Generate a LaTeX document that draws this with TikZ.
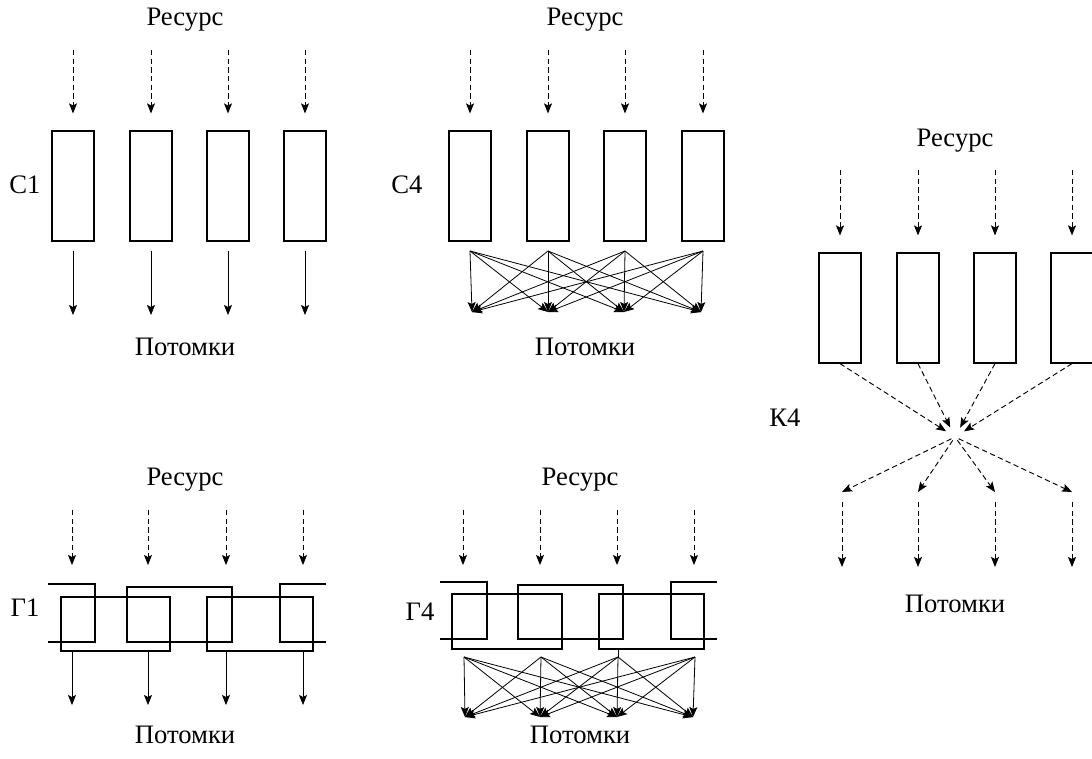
\documentclass[tikz,border=0pt]{standalone}
\usepackage{fontspec}
\setmainfont{Liberation Serif}
\usetikzlibrary{arrows.meta}

\begin{document}
\begin{tikzpicture}[x=0.75pt,y=-0.75pt,
    every node/.style={font=\fontsize{20}{23}\selectfont},
    cell/.style={draw, line width=1.4pt, inner sep=0pt, minimum width=32pt, minimum height=82pt},
    feed/.style={-{Stealth[length=7.5pt,width=6pt,inset=1.5pt]}, line width=0.7pt, dash pattern=on 4pt off 2.5pt, shorten >=12.75pt},
    offspring/.style={-{Stealth[length=7.5pt,width=6pt,inset=1.5pt]}, line width=0.7pt},
    mix/.style={-{Stealth[length=7.5pt,width=6pt,inset=1.5pt]}, line width=0.6pt},
    leave/.style={shorten <=6.75pt},
    frame/.style={line width=1.4pt}]
    \useasboundingbox (0,0) rectangle (1092,758);

    % C1: separate cells
    \node at (185,20) {Ресурс};
    \node at (25,185) {С1};
    \node at (185,347) {Потомки};
    \node[cell] (c1a) at (73,186) {};
    \node[cell] (c1b) at (151,186) {};
    \node[cell] (c1c) at (228,186) {};
    \node[cell] (c1d) at (305,186) {};
    \coordinate (r1a) at (73,50);
    \coordinate (r1b) at (151,50);
    \coordinate (r1c) at (228,50);
    \coordinate (r1d) at (305,50);
    \coordinate (p1a) at (73,315);
    \coordinate (p1b) at (151,315);
    \coordinate (p1c) at (228,315);
    \coordinate (p1d) at (305,315);
    \draw[feed] (r1a) -- (c1a);
    \draw[feed] (r1b) -- (c1b);
    \draw[feed] (r1c) -- (c1c);
    \draw[feed] (r1d) -- (c1d);
    \draw[offspring, leave] (c1a) -- (p1a);
    \draw[offspring, leave] (c1b) -- (p1b);
    \draw[offspring, leave] (c1c) -- (p1c);
    \draw[offspring, leave] (c1d) -- (p1d);

    % C4: separate cells, mixed offspring
    \node at (585,20) {Ресурс};
    \node at (407,185) {С4};
    \node at (585,347) {Потомки};
    \node[cell] (c4a) at (470,186) {};
    \node[cell] (c4b) at (548,186) {};
    \node[cell] (c4c) at (625,186) {};
    \node[cell] (c4d) at (703,186) {};
    \coordinate (r4a) at (470,50);
    \coordinate (r4b) at (548,50);
    \coordinate (r4c) at (625,50);
    \coordinate (r4d) at (703,50);
    \draw[feed] (r4a) -- (c4a);
    \draw[feed] (r4b) -- (c4b);
    \draw[feed] (r4c) -- (c4c);
    \draw[feed] (r4d) -- (c4d);
    \coordinate (s4a) at (470,251);
    \coordinate (s4b) at (548,251);
    \coordinate (s4c) at (625,251);
    \coordinate (s4d) at (703,251);
    \coordinate (t4a) at (472,312);
    \coordinate (t4b) at (548,312);
    \coordinate (t4c) at (624,312);
    \coordinate (t4d) at (701,312);
    \draw[mix] (s4a) -- (t4a);
    \draw[mix] (s4a) -- (t4b);
    \draw[mix] (s4a) -- (t4c);
    \draw[mix] (s4a) -- (t4d);
    \draw[mix] (s4b) -- (t4a);
    \draw[mix] (s4b) -- (t4b);
    \draw[mix] (s4b) -- (t4c);
    \draw[mix] (s4b) -- (t4d);
    \draw[mix] (s4c) -- (t4a);
    \draw[mix] (s4c) -- (t4b);
    \draw[mix] (s4c) -- (t4c);
    \draw[mix] (s4c) -- (t4d);
    \draw[mix] (s4d) -- (t4a);
    \draw[mix] (s4d) -- (t4b);
    \draw[mix] (s4d) -- (t4c);
    \draw[mix] (s4d) -- (t4d);

    % K4: common pool
    \node at (955,141) {Ресурс};
    \node at (785,418) {К4};
    \node at (955,604) {Потомки};
    \node[cell] (k4a) at (840,308) {};
    \node[cell] (k4b) at (918,308) {};
    \node[cell] (k4c) at (995,308) {};
    \node[cell] (k4d) at (1072,308) {};
    \coordinate (rka) at (840,170);
    \coordinate (rkb) at (918,170);
    \coordinate (rkc) at (995,170);
    \coordinate (rkd) at (1072,170);
    \draw[feed] (rka) -- (k4a);
    \draw[feed] (rkb) -- (k4b);
    \draw[feed] (rkc) -- (k4c);
    \draw[feed] (rkd) -- (k4d);
    \coordinate (hub) at (955,437);
    \draw[feed, shorten >=8pt] (k4a.south) -- (hub);
    \draw[feed, shorten >=8pt] (k4b.south) -- (hub);
    \draw[feed, shorten >=8pt] (k4c.south) -- (hub);
    \draw[feed, shorten >=8pt] (k4d.south) -- (hub);
    \coordinate (mka) at (842,492);
    \coordinate (mkb) at (918,492);
    \coordinate (mkc) at (995,492);
    \coordinate (mkd) at (1072,492);
    \draw[feed, shorten >=0pt, shorten <=3pt] (hub) -- (mka);
    \draw[feed, shorten >=0pt, shorten <=3pt] (hub) -- (mkb);
    \draw[feed, shorten >=0pt, shorten <=3pt] (hub) -- (mkc);
    \draw[feed, shorten >=0pt, shorten <=3pt] (hub) -- (mkd);
    \coordinate (dka) at (842,502);
    \coordinate (dkb) at (918,502);
    \coordinate (dkc) at (995,502);
    \coordinate (dkd) at (1072,502);
    \coordinate (eka) at (842,567);
    \coordinate (ekb) at (918,567);
    \coordinate (ekc) at (995,567);
    \coordinate (ekd) at (1072,567);
    \draw[feed, shorten >=0pt] (dka) -- (eka);
    \draw[feed, shorten >=0pt] (dkb) -- (ekb);
    \draw[feed, shorten >=0pt] (dkc) -- (ekc);
    \draw[feed, shorten >=0pt] (dkd) -- (ekd);

    % G1: interlocked cells
    \node at (185,480) {Ресурс};
    \node at (25,608) {Г1};
    \node at (185,735) {Потомки};
    \draw[frame] (48,584) -- (95,584) -- (95,642) -- (48,642);
    \draw[frame] (127,587) rectangle (232,642);
    \draw[frame] (326,584) -- (280,584) -- (280,642) -- (326,642);
    \draw[frame] (61,597) rectangle (170,651);
    \draw[frame] (207,597) rectangle (313,651);
    \coordinate (r5a) at (72,510);
    \coordinate (r5b) at (148,510);
    \coordinate (r5c) at (226,510);
    \coordinate (r5d) at (303,510);
    \coordinate (u5a) at (72,582);
    \coordinate (u5b) at (148,582);
    \coordinate (u5c) at (226,582);
    \coordinate (u5d) at (303,582);
    \draw[feed] (r5a) -- (u5a);
    \draw[feed] (r5b) -- (u5b);
    \draw[feed] (r5c) -- (u5c);
    \draw[feed] (r5d) -- (u5d);
    \coordinate (g1a) at (72,651);
    \coordinate (g1b) at (148,651);
    \coordinate (g1c) at (226,651);
    \coordinate (g1d) at (303,651);
    \coordinate (q1a) at (72,705);
    \coordinate (q1b) at (148,705);
    \coordinate (q1c) at (226,705);
    \coordinate (q1d) at (303,705);
    \draw[offspring] (g1a) -- (q1a);
    \draw[offspring] (g1b) -- (q1b);
    \draw[offspring] (g1c) -- (q1c);
    \draw[offspring] (g1d) -- (q1d);

    % G4: interlocked cells, mixed offspring
    \node at (580,480) {Ресурс};
    \node at (420,612) {Г4};
    \node at (580,735) {Потомки};
    \draw[frame] (440,582) -- (487,582) -- (487,639) -- (440,639);
    \draw[frame] (518,585) rectangle (623,639);
    \draw[frame] (717,582) -- (671,582) -- (671,639) -- (717,639);
    \draw[frame] (452,594) rectangle (562,649);
    \draw[frame] (599,594) rectangle (704,649);
    \coordinate (r6a) at (463,510);
    \coordinate (r6b) at (540,510);
    \coordinate (r6c) at (617,510);
    \coordinate (r6d) at (694,510);
    \coordinate (u6a) at (463,582);
    \coordinate (u6b) at (540,582);
    \coordinate (u6c) at (617,582);
    \coordinate (u6d) at (694,582);
    \draw[feed] (r6a) -- (u6a);
    \draw[feed] (r6b) -- (u6b);
    \draw[feed] (r6c) -- (u6c);
    \draw[feed] (r6d) -- (u6d);
    \coordinate (s6a) at (464,657);
    \coordinate (s6b) at (541,657);
    \coordinate (s6c) at (618,657);
    \coordinate (s6d) at (695,657);
    \coordinate (t6a) at (465,717);
    \coordinate (t6b) at (540,717);
    \coordinate (t6c) at (617,717);
    \coordinate (t6d) at (693,717);
    \draw[line width=0.6pt] (618,649) -- (s6c);
    \draw[mix] (s6a) -- (t6a);
    \draw[mix] (s6a) -- (t6b);
    \draw[mix] (s6a) -- (t6c);
    \draw[mix] (s6a) -- (t6d);
    \draw[mix] (s6b) -- (t6a);
    \draw[mix] (s6b) -- (t6b);
    \draw[mix] (s6b) -- (t6c);
    \draw[mix] (s6b) -- (t6d);
    \draw[mix] (s6c) -- (t6a);
    \draw[mix] (s6c) -- (t6b);
    \draw[mix] (s6c) -- (t6c);
    \draw[mix] (s6c) -- (t6d);
    \draw[mix] (s6d) -- (t6a);
    \draw[mix] (s6d) -- (t6b);
    \draw[mix] (s6d) -- (t6c);
    \draw[mix] (s6d) -- (t6d);
\end{tikzpicture}
\end{document}
